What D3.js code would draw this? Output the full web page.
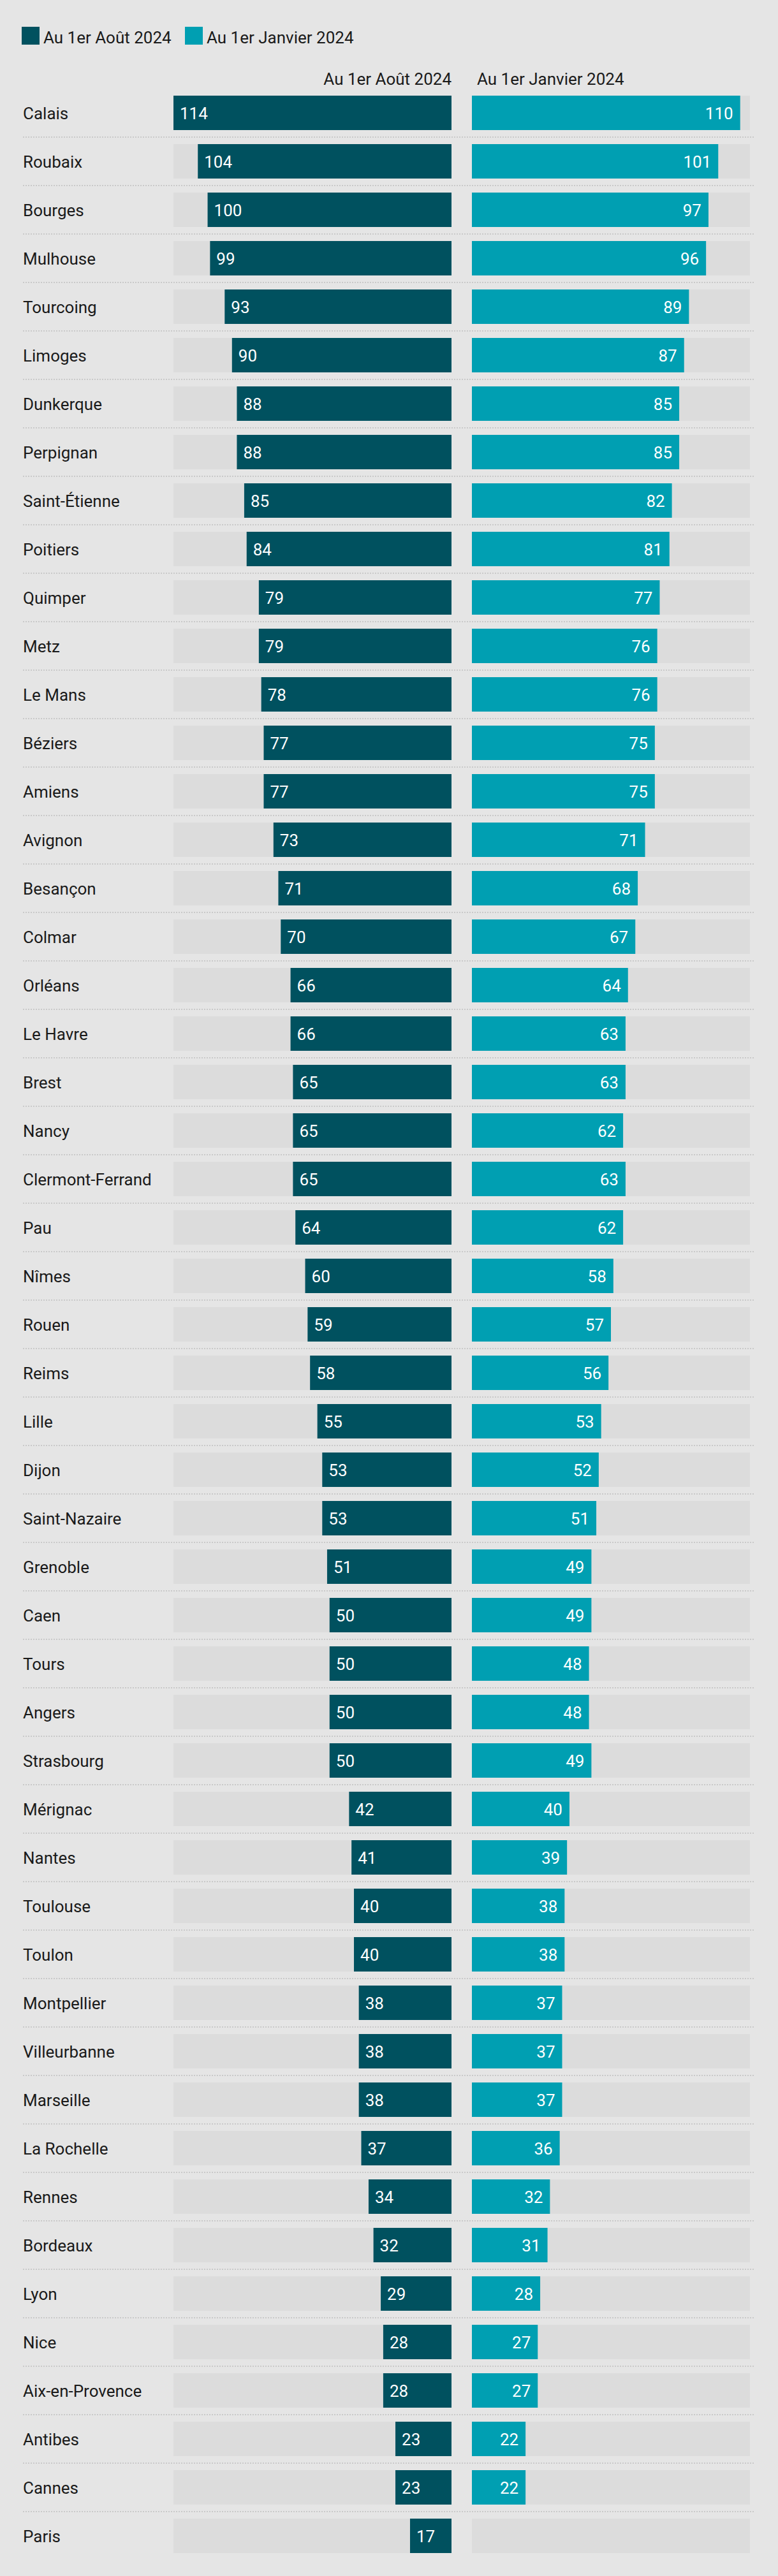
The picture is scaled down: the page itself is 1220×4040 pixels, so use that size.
<!DOCTYPE html>
<html>
<head>
<meta charset="utf-8">
<script src="https://cdn.jsdelivr.net/npm/d3@7"></script>
<style>
  html, body { margin: 0; padding: 0; background: #e5e5e5; }
  svg { display: block; font-family: Roboto, "Noto Sans", sans-serif; font-weight: 400; }
</style>
</head>
<body>
<svg id="chart" width="1220" height="4040"></svg>
<script>
const cities = ["Calais","Roubaix","Bourges","Mulhouse","Tourcoing","Limoges","Dunkerque","Perpignan","Saint-Étienne","Poitiers",
  "Quimper","Metz","Le Mans","Béziers","Amiens","Avignon","Besançon","Colmar","Orléans","Le Havre",
  "Brest","Nancy","Clermont-Ferrand","Pau","Nîmes","Rouen","Reims","Lille","Dijon","Saint-Nazaire",
  "Grenoble","Caen","Tours","Angers","Strasbourg","Mérignac","Nantes","Toulouse","Toulon","Montpellier",
  "Villeurbanne","Marseille","La Rochelle","Rennes","Bordeaux","Lyon","Nice","Aix-en-Provence","Antibes","Cannes",
  "Paris"];
const aout = [114,104,100,99,93,90,88,88,85,84,
  79,79,78,77,77,73,71,70,66,66,
  65,65,65,64,60,59,58,55,53,53,
  51,50,50,50,50,42,41,40,40,38,
  38,38,37,34,32,29,28,28,23,23,
  17];
const janvier = [110,101,97,96,89,87,85,85,82,81,
  77,76,76,75,75,71,68,67,64,63,
  63,62,63,62,58,57,56,53,52,51,
  49,49,48,48,49,40,39,38,38,37,
  37,37,36,32,31,28,27,27,22,22,
  null];
const seriesNames = ["Au 1er Août 2024", "Au 1er Janvier 2024"];
const colors = ["#00515f", "#009fb2"];

const svg = d3.select("#chart");
const W = 1220, H = 4040;
svg.append("rect").attr("width", W).attr("height", H).attr("fill", "#e5e5e5");

const leftEnd = 708, rightStart = 740, panelW = 436;
const x = d3.scaleLinear().domain([0, 114]).range([0, panelW]);
const y = d3.scaleBand().domain(cities).range([150, 4004]).paddingInner(22/76).paddingOuter(0);
const bh = y.bandwidth();
const FS = 26;

// Legend
const legend = svg.append("g");
const lx = [34, 290];
seriesNames.forEach((s, i) => {
  legend.append("rect").attr("x", lx[i]).attr("y", 42).attr("width", 28).attr("height", 28).attr("fill", colors[i]);
  legend.append("text").attr("x", lx[i] + 34).attr("y", 68).attr("font-size", FS).attr("fill", "#1a1a1a").text(s);
});

// Column headers
svg.append("text").attr("x", leftEnd).attr("y", 133).attr("text-anchor", "end").attr("font-size", FS).attr("fill", "#1a1a1a").text(seriesNames[0]);
svg.append("text").attr("x", rightStart + 8).attr("y", 133).attr("text-anchor", "start").attr("font-size", FS).attr("fill", "#1a1a1a").text(seriesNames[1]);

// Separators
svg.append("g").selectAll("line").data(cities.slice(0, -1)).join("line")
  .attr("x1", 36).attr("x2", 1184)
  .attr("y1", d => y(d) + bh + 11).attr("y2", d => y(d) + bh + 11)
  .attr("stroke", "#c9c9c9").attr("stroke-width", 2).attr("stroke-dasharray", "2,2");

const rows = svg.append("g").selectAll("g").data(cities).join("g")
  .attr("transform", d => `translate(0,${y(d)})`);

// City labels
rows.append("text").attr("x", 36).attr("y", bh / 2 + 10).attr("font-size", FS).attr("fill", "#1a1a1a").text(d => d);

// Background tracks
rows.append("rect").attr("x", leftEnd - panelW).attr("width", panelW).attr("height", bh).attr("fill", "#dcdcdc");
rows.append("rect").attr("x", rightStart).attr("width", panelW).attr("height", bh).attr("fill", "#dcdcdc");

// Left bars (Août)
rows.append("rect")
  .attr("x", (d, i) => leftEnd - x(aout[i]))
  .attr("width", (d, i) => x(aout[i]))
  .attr("height", bh).attr("fill", colors[0]);
rows.append("text")
  .attr("x", (d, i) => leftEnd - x(aout[i]) + 10)
  .attr("y", bh / 2 + 10).attr("font-size", FS).attr("fill", "#fff")
  .text((d, i) => aout[i]);

// Right bars (Janvier)
rows.filter((d, i) => janvier[i] != null).each(function(d) {
  const i = cities.indexOf(d);
  const g = d3.select(this);
  g.append("rect").attr("x", rightStart).attr("width", x(janvier[i])).attr("height", bh).attr("fill", colors[1]);
  g.append("text").attr("x", rightStart + x(janvier[i]) - 11).attr("y", bh / 2 + 10)
    .attr("text-anchor", "end").attr("font-size", FS).attr("fill", "#fff").text(janvier[i]);
});
</script>
</body>
</html>
